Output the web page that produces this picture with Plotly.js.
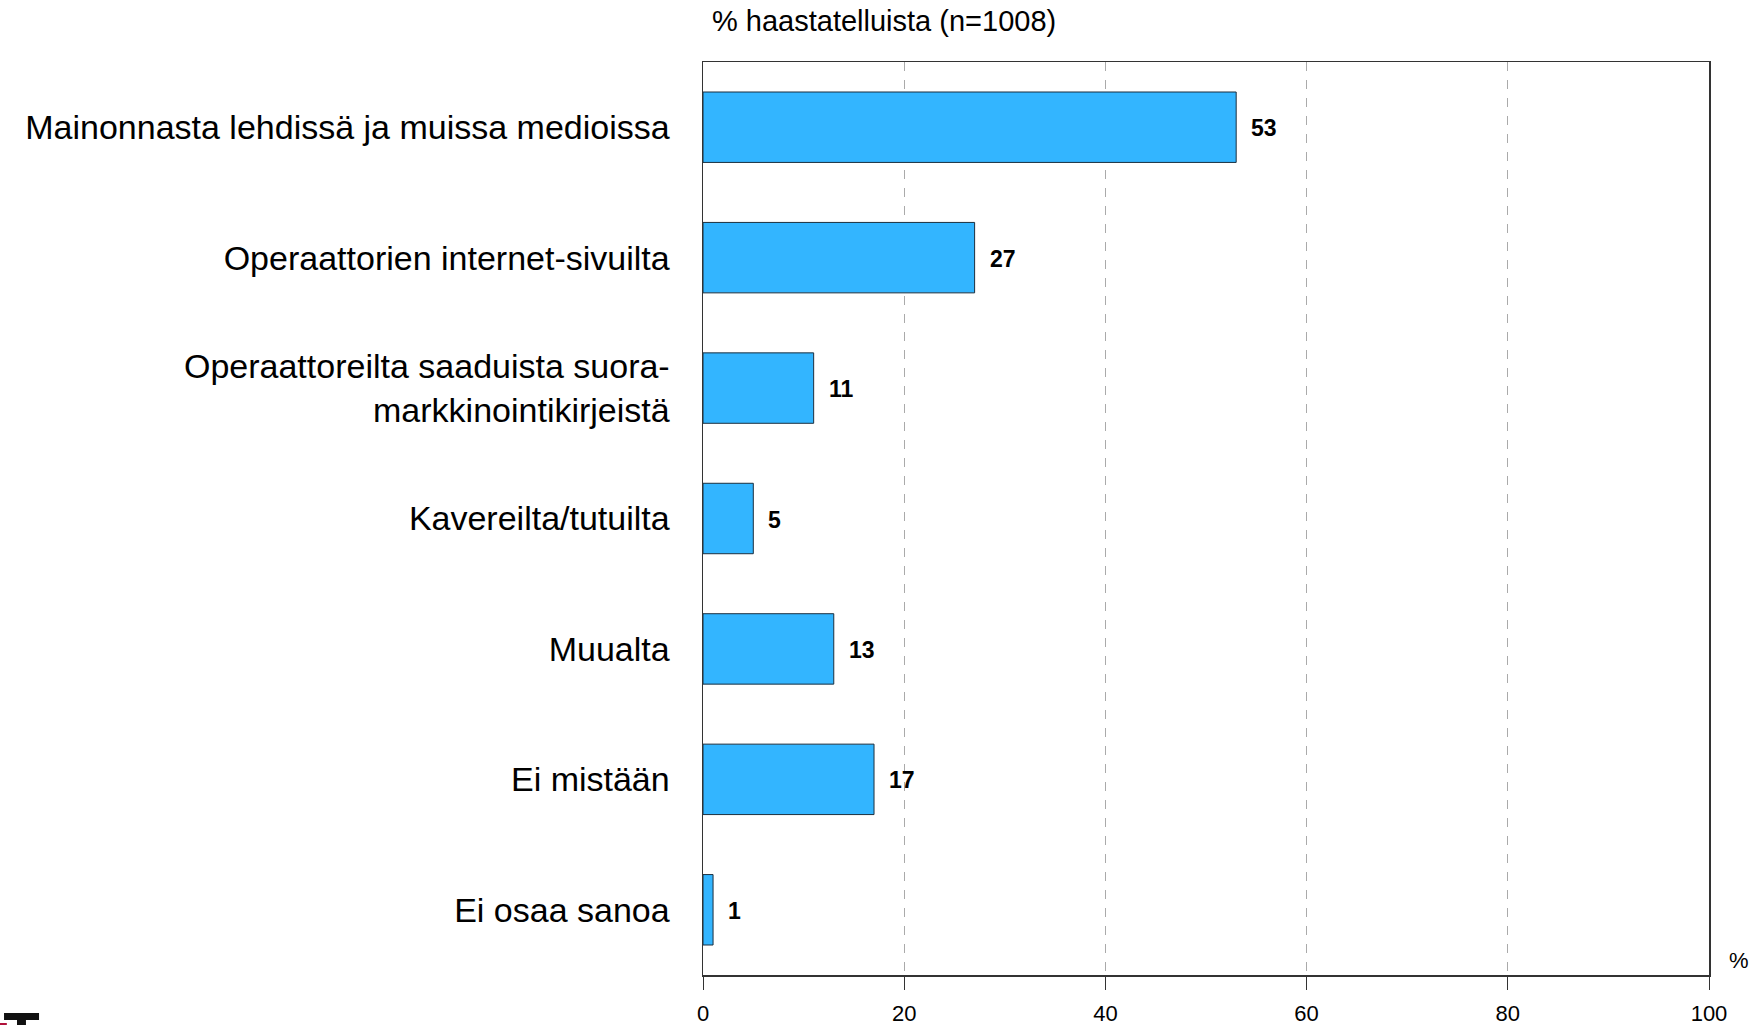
<!DOCTYPE html>
<html>
<head>
<meta charset="utf-8">
<script src="https://cdn.plot.ly/plotly-3.0.1.min.js"></script>
<style>html,body{margin:0;padding:0;background:#fff;}#chart{width:1760px;height:1025px;}</style>
</head>
<body>
<div id="chart"></div>
<script>
const categories = [
  "Mainonnasta lehdissä ja muissa medioissa",
  "Operaattorien internet-sivuilta",
  "Operaattoreilta saaduista suora-<br>markkinointikirjeistä",
  "Kavereilta/tutuilta",
  "Muualta",
  "Ei mistään",
  "Ei osaa sanoa"
];
const values = [53, 27, 11, 5, 13, 17, 1];
const xTicks = [0, 20, 40, 60, 80, 100];
const titleText = "% haastatelluista (n=1008)";
const unitText = "%";

const FONT = "Liberation Sans, Arial, Helvetica, sans-serif";

const trace = {
  type: "bar",
  orientation: "h",
  x: values,
  y: categories,
  marker: { color: "#33B5FF", line: { color: "#1b2f3f", width: 1 } },
  hoverinfo: "x+y",
  cliponaxis: false
};

const valueAnnotations = values.map((v, i) => ({
  x: v, y: categories[i], xref: "x", yref: "y",
  text: "<b>" + v + "</b>",
  showarrow: false, xanchor: "left", xshift: 13, yshift: -1,
  font: { family: FONT, size: 23, color: "#000" }
}));

const layout = {
  width: 1760, height: 1025,
  margin: { l: 703, r: 51, t: 62, b: 50, pad: 0 },
  paper_bgcolor: "#fff", plot_bgcolor: "#fff",
  showlegend: false,
  bargap: 0.46,
  font: { family: FONT, color: "#000" },
  title: {
    text: titleText,
    x: 712 / 1760, xanchor: "left", xref: "container",
    y: 1 - 21 / 1025, yanchor: "middle", yref: "container",
    font: { family: FONT, size: 29, color: "#000" }
  },
  xaxis: {
    range: [0, 100],
    tickvals: xTicks,
    ticktext: xTicks.map(String),
    ticks: "outside", ticklen: 13, tickcolor: "#333", tickwidth: 1,
    ticklabelstandoff: 5,
    tickfont: { family: FONT, size: 22, color: "#000" },
    showgrid: true, gridcolor: "#aaaaaa", gridwidth: 1, griddash: "dash",
    showline: true, linecolor: "#333", linewidth: 1.5, mirror: true,
    zeroline: false, fixedrange: true
  },
  yaxis: {
    type: "category",
    autorange: "reversed",
    ticks: "", showgrid: false, zeroline: false,
    showline: true, linecolor: "#333", linewidth: 1.5, mirror: true,
    tickfont: { family: FONT, size: 34, color: "#000" },
    ticklabelstandoff: 25,
    fixedrange: true
  },
  annotations: valueAnnotations.concat([{
    x: 1.03, y: 0.016, xref: "paper", yref: "paper",
    text: unitText, showarrow: false, xanchor: "center", yanchor: "middle",
    font: { family: FONT, size: 22, color: "#000" }
  }]),
  shapes: [
    { type: "rect", xref: "paper", yref: "paper", x0: -0.6948, x1: -0.660, y0: -0.0493, y1: -0.0416, fillcolor: "#111", line: { width: 0 } },
    { type: "rect", xref: "paper", yref: "paper", x0: -0.6819, x1: -0.673, y0: -0.0560, y1: -0.0493, fillcolor: "#111", line: { width: 0 } },
    { type: "rect", xref: "paper", yref: "paper", x0: -0.6990, x1: -0.692, y0: -0.0560, y1: -0.0526, fillcolor: "#b0103a", line: { width: 0 } }
  ]
};

Plotly.newPlot("chart", [trace], layout, { displayModeBar: false, staticPlot: true });
</script>
</body>
</html>
